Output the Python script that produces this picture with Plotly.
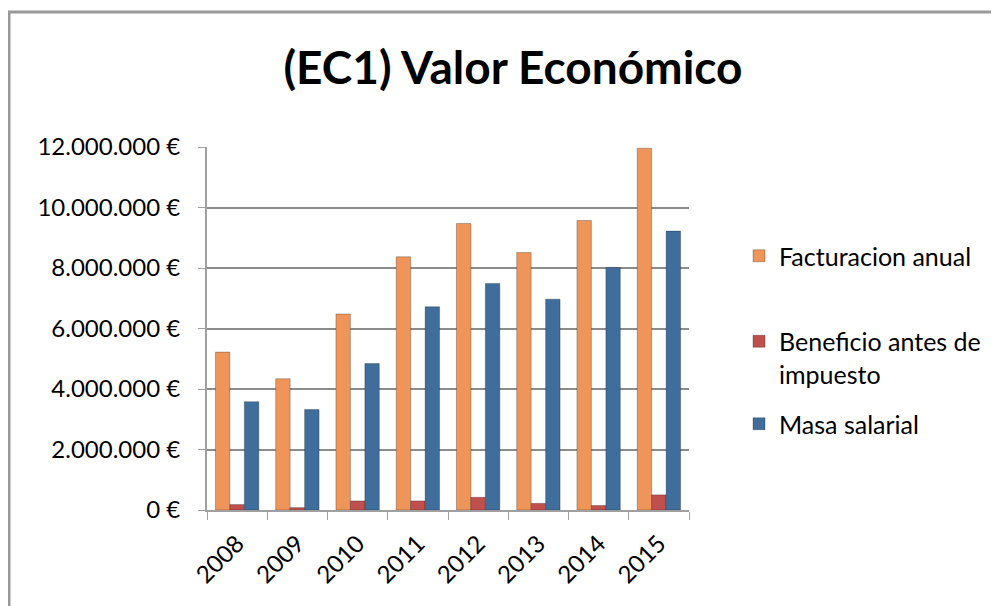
import plotly.graph_objects as go

years = ["2008", "2009", "2010", "2011", "2012", "2013", "2014", "2015"]
facturacion = [5220000, 4340000, 6480000, 8370000, 9470000, 8510000, 9570000, 11960000]
beneficio = [180000, 80000, 300000, 300000, 420000, 220000, 150000, 500000]
masa_salarial = [3580000, 3320000, 4840000, 6720000, 7490000, 6970000, 8020000, 9220000]

series_names = ["Facturacion anual", "Beneficio antes de<br>impuesto", "Masa salarial"]
series_colors = ["#EF9559", "#C0504D", "#3F6E9D"]
tick_vals = [0, 2000000, 4000000, 6000000, 8000000, 10000000, 12000000]
tick_text = ["0 €", "2.000.000 €", "4.000.000 €", "6.000.000 €", "8.000.000 €", "10.000.000 €", "12.000.000 €"]

FONT = "Lato"
# page has an 8px body margin; figure coords = page coords - 8
L, T, PW, PH = 199, 139, 482, 363

fig = go.Figure()
legends = ["legend", "legend2", "legend3"]
for name, vals, col, lg in zip(series_names, [facturacion, beneficio, masa_salarial], series_colors, legends):
    fig.add_trace(go.Bar(
        x=years, y=vals, name=name, legend=lg,
        marker=dict(color=col, line=dict(color="rgba(0,0,0,0.25)", width=1)),
    ))

def leg(fy):
    return dict(x=(731 - L) / PW, xanchor="left", y=(T + PH - fy) / PH,
                yanchor="middle", font=dict(family=FONT, size=25, color="#000000"),
                valign="top", itemwidth=30, bgcolor="rgba(0,0,0,0)")

fig.update_layout(
    width=999, height=606,
    margin=dict(l=L, r=999 - L - PW, t=T, b=606 - T - PH),
    paper_bgcolor="white", plot_bgcolor="white",
    barmode="group", bargap=0.28, bargroupgap=0,
    font=dict(family=FONT, size=24, color="#000000"),
    title=dict(text="<b>(EC1) Valor Económico</b>", x=0.5055, xanchor="center",
               y=0.901, yanchor="middle", font=dict(family=FONT, size=46, color="#000000")),
    legend=leg(248),
    legend2=leg(349.5),
    legend3=leg(416),
    showlegend=True,
)
fig.update_yaxes(
    range=[0, 12000000], tickvals=tick_vals, ticktext=tick_text,
    showgrid=True, gridcolor="#8C8C8C", gridwidth=1.5,
    showline=True, linecolor="#A0A0A0", linewidth=2,
    ticks="outside", ticklen=7, tickcolor="#A0A0A0",
    ticklabelstandoff=13, zeroline=False,
    tickfont=dict(family=FONT, size=24),
)
fig.update_xaxes(
    showline=True, linecolor="#A0A0A0", linewidth=2,
    ticks="outside", tickson="boundaries", ticklen=8, tickcolor="#A0A0A0",
    tickangle=-45, ticklabelstandoff=8, tickfont=dict(family=FONT, size=24),
)
# chart border (partially clipped by the window)
fig.add_shape(type="rect", xref="paper", yref="paper",
              x0=(1 - L) / PW, x1=(1030 - L) / PW,
              y0=(T + PH - 650) / PH, y1=(T + PH - 4) / PH,
              line=dict(color="#999999", width=3), fillcolor="rgba(0,0,0,0)", layer="below")

fig.write_html("out.html")
